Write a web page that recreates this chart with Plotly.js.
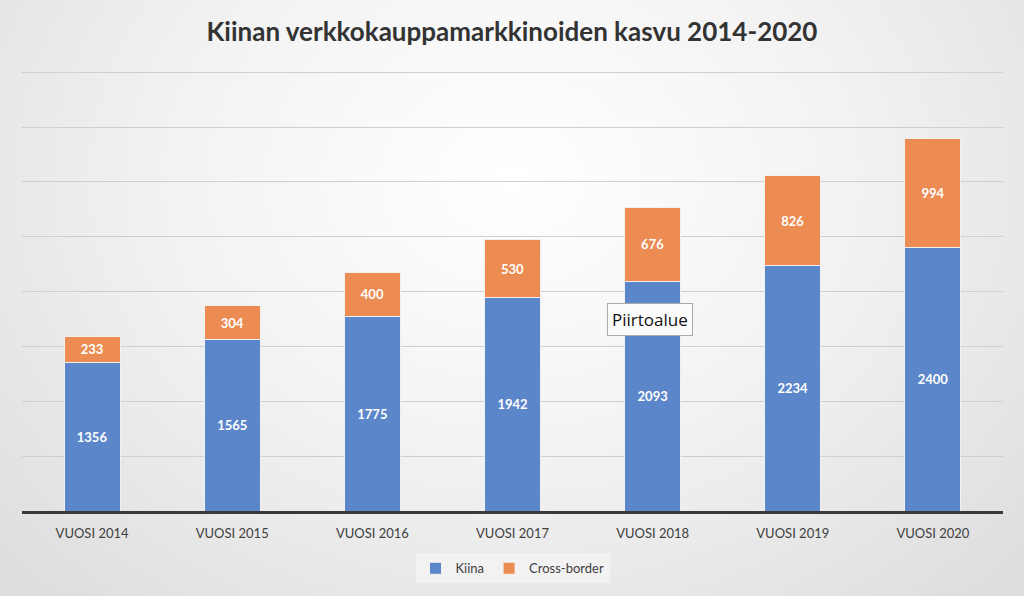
<!DOCTYPE html>
<html>
<head>
<meta charset="utf-8">
<script src="https://cdn.plot.ly/plotly-3.0.1.min.js"></script>
<style>
html,body{margin:0;padding:0;}
body{width:1024px;height:596px;background:radial-gradient(ellipse at 50% 30%, #ffffff 0%, #f3f3f3 45%, #dcdcdc 100%);}
#chart{width:1024px;height:596px;}
</style>
</head>
<body>
<div id="chart"></div>
<script>
const categories = ["VUOSI 2014","VUOSI 2015","VUOSI 2016","VUOSI 2017","VUOSI 2018","VUOSI 2019","VUOSI 2020"];
const kiina = [1356,1565,1775,1942,2093,2234,2400];
const crossBorder = [233,304,400,530,676,826,994];
const seriesNames = ["Kiina","Cross-border"];
const titleText = "Kiinan verkkokauppamarkkinoiden kasvu 2014-2020";
const calloutText = "Piirtoalue";

const font = "Lato, 'Open Sans', sans-serif";
const traces = [
  {type:"bar", name:seriesNames[0], x:categories, y:kiina, text:kiina.map(String),
   textposition:"inside", insidetextanchor:"middle",
   textfont:{family:font,size:13,color:"#ffffff",weight:"bold"},
   marker:{color:"#5b86c9", line:{color:"#f0f0f0",width:1}}, hoverinfo:"none"},
  {type:"bar", name:seriesNames[1], x:categories, y:crossBorder, text:crossBorder.map(String),
   textposition:"inside", insidetextanchor:"middle",
   textfont:{family:font,size:13,color:"#ffffff",weight:"bold"},
   marker:{color:"#ec8c52", line:{color:"#f0f0f0",width:1}}, hoverinfo:"none"}
];
const layout = {
  width:1024, height:596,
  paper_bgcolor:"rgba(0,0,0,0)", plot_bgcolor:"rgba(0,0,0,0)",
  barmode:"stack", bargap:0.6,
  margin:{l:22,r:21,t:70,b:85},
  title:{text:titleText, x:0.5, xanchor:"center", y:0.946, yanchor:"middle",
    font:{family:font,size:26,color:"#333333",weight:"bold"}},
  xaxis:{type:"category", showline:true, linecolor:"#3a3a3a", linewidth:3,
    ticks:"", ticklabelstandoff:8, tickfont:{family:font,size:13,color:"#404040"}, showgrid:false},
  yaxis:{range:[0,4020], tickvals:[500,1000,1500,2000,2500,3000,3500,4000], showticklabels:false, showgrid:true,
    gridcolor:"#cfcfcf", gridwidth:1, zeroline:false, fixedrange:true},
  showlegend:true,
  legend:{orientation:"h", traceorder:"normal", x:0.5, xanchor:"center", y:-0.13, yanchor:"middle",
    bgcolor:"rgba(245,245,245,0.7)", font:{family:font,size:13,color:"#404040"},
    itemwidth:30, tracegroupgap:0},
  annotations:[{x:3.98, y:1745, xref:"x", yref:"y", text:calloutText, showarrow:false,
    font:{family:"'Open Sans', sans-serif",size:17,color:"#111111"},
    bgcolor:"#fbfbfb", bordercolor:"#aaaaaa", borderwidth:1, borderpad:4}]
};
Plotly.newPlot("chart", traces, layout, {displayModeBar:false, staticPlot:true});
</script>
</body>
</html>
